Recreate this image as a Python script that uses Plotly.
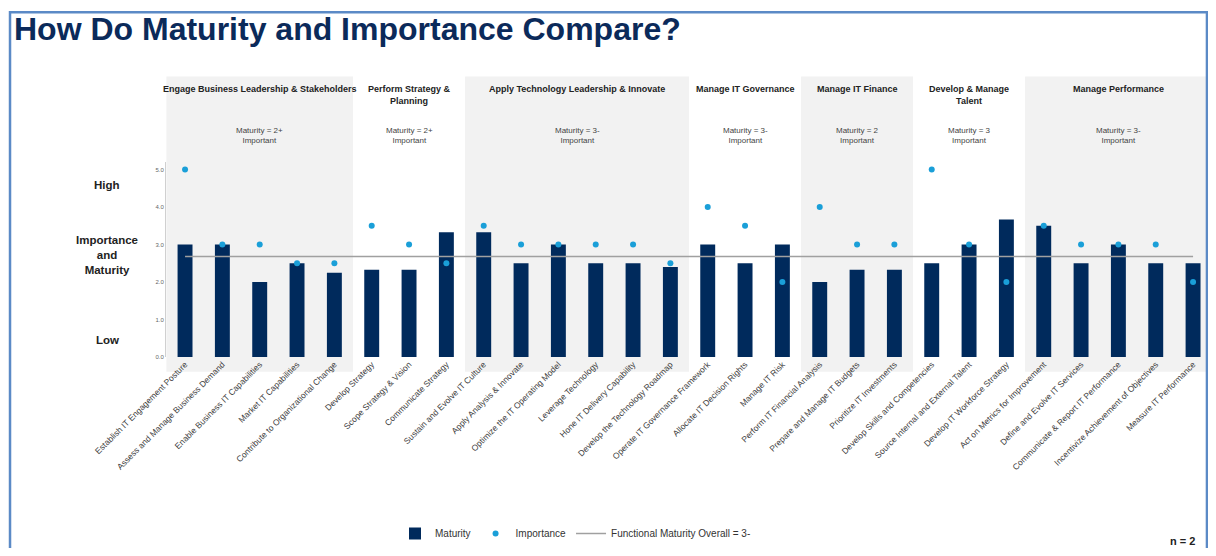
import plotly.graph_objects as go

# 데이터
categories = [
    "Establish IT Engagement Posture",
    "Assess and Manage Business Demand",
    "Enable Business IT Capabilities",
    "Market IT Capabilities",
    "Contribute to Organizational Change",
    "Develop Strategy",
    "Scope Strategy & Vision",
    "Communicate Strategy",
    "Sustain and Evolve IT Culture",
    "Apply Analysis & Innovate",
    "Optimize the IT Operating Model",
    "Leverage Technology",
    "Hone IT Delivery Capability",
    "Develop the Technology Roadmap",
    "Operate IT Governance Framework",
    "Allocate IT Decision Rights",
    "Manage IT Risk",
    "Perform IT Financial Analysis",
    "Prepare and Manage IT Budgets",
    "Prioritize IT Investments",
    "Develop Skills and Competencies",
    "Source Internal and External Talent",
    "Develop IT Workforce Strategy",
    "Act on Metrics for Improvement",
    "Define and Evolve IT Services",
    "Communicate & Report IT Performance",
    "Incentivize Achievement of Objectives",
    "Measure IT Performance",
]
maturity = [3.0, 3.0, 2.0, 2.5, 2.25, 2.33, 2.33, 3.33, 3.33, 2.5, 3.0, 2.5, 2.5, 2.4,
            3.0, 2.5, 3.0, 2.0, 2.33, 2.33, 2.5, 3.0, 3.67, 3.5, 2.5, 3.0, 2.5, 2.5]
importance = [5.0, 3.0, 3.0, 2.5, 2.5, 3.5, 3.0, 2.5, 3.5, 3.0, 3.0, 3.0, 3.0, 2.5,
              4.0, 3.5, 2.0, 4.0, 3.0, 3.0, 5.0, 3.0, 2.0, 3.5, 3.0, 3.0, 3.0, 2.0]
functional_overall = 2.68

group_names = [
    "Engage Business Leadership & Stakeholders",
    "Perform Strategy &<br>Planning",
    "Apply Technology Leadership & Innovate",
    "Manage IT Governance",
    "Manage IT Finance",
    "Develop & Manage<br>Talent",
    "Manage Performance",
]
group_sizes = [5, 3, 6, 3, 3, 3, 5]
group_notes = ["Maturity = 2+", "Maturity = 2+", "Maturity = 3-", "Maturity = 3-",
               "Maturity = 2", "Maturity = 3", "Maturity = 3-"]
group_shaded = [True, False, True, False, True, False, True]

NAVY = "#002a5c"
LIGHT_BLUE = "#1a9fd8"
FONT = "Liberation Sans, Arial, sans-serif"

fig = go.Figure()

# 성숙도 막대
fig.add_trace(
    go.Bar(
        x=categories,
        y=maturity,
        name="Maturity",
        marker={"color": NAVY, "line": {"width": 0}},
        width=0.4,
    )
)

# 중요도 점
fig.add_trace(
    go.Scatter(
        x=categories,
        y=importance,
        mode="markers",
        name="Importance",
        marker={"color": LIGHT_BLUE, "size": 6},
        cliponaxis=False,
    )
)

# 전체 기준선
fig.add_trace(
    go.Scatter(
        x=categories,
        y=[functional_overall] * len(categories),
        mode="lines",
        name="Functional Maturity Overall = 3-",
        line={"color": "#a0a0a0", "width": 1.5},
    )
)

# 그룹 배경 및 헤더
start = 0
for name, size, note, shaded in zip(group_names, group_sizes, group_notes, group_shaded):
    end = start + size - 1
    if shaded:
        fig.add_shape(
            type="rect", xref="x", yref="paper",
            x0=start - 0.5, x1=end + 0.5, y0=-0.076, y1=1.439,
            fillcolor="#f2f2f2", line={"width": 0}, layer="below",
        )
    center = (start + end) / 2
    fig.add_annotation(
        x=center, y=1.412, xref="x", yref="paper", yanchor="top",
        text=f"<b>{name}</b>", showarrow=False,
        font={"size": 9, "color": "#222222", "family": FONT},
    )
    fig.add_annotation(
        x=center, y=1.134, xref="x", yref="paper", yanchor="middle",
        text=f"{note}<br>Important", showarrow=False,
        font={"size": 8, "color": "#444444", "family": FONT},
    )
    start = end + 1

# y축 설명
for text, ypos in [("High", 0.884), ("Importance<br>and<br>Maturity", 0.525), ("Low", 0.086)]:
    fig.add_annotation(
        x=-0.0566, y=ypos, xref="paper", yref="paper", xanchor="center", yanchor="middle",
        text=f"<b>{text}</b>", showarrow=False,
        font={"size": 11.5, "color": "#222222", "family": FONT},
    )

fig.add_annotation(x=0.989, y=-0.944, xref="paper", yref="paper", xanchor="right",
                   yanchor="middle", text="<b>n = 2</b>", showarrow=False,
                   font={"size": 11, "color": "#222222", "family": FONT})

# 외곽 테두리
fig.add_shape(type="rect", xref="paper", yref="paper",
              x0=-0.1497, x1=0.999, y0=-1.2, y1=1.768,
              line={"color": "#5b8ac6", "width": 2.5}, fillcolor="rgba(0,0,0,0)")

fig.update_layout(
    width=1200,
    height=540,
    margin={"l": 158, "r": 0, "t": 154, "b": 188},
    paper_bgcolor="white",
    plot_bgcolor="rgba(0,0,0,0)",
    font={"family": FONT, "color": "#333333"},
    title={
        "text": "<b>How Do Maturity and Importance Compare?</b>",
        "x": 0.005, "xanchor": "left", "y": 0.962, "yanchor": "middle",
        "font": {"size": 32, "color": "#0b2a5a", "family": FONT},
    },
    showlegend=True,
    legend={
        "orientation": "h", "x": 0.393, "xanchor": "center", "y": -0.909, "yanchor": "middle",
        "font": {"size": 10, "color": "#333333"}, "itemwidth": 30,
    },
)

fig.update_xaxes(
    type="category",
    range=[-0.51, 27.4],
    tickangle=-45,
    tickfont={"size": 8.5, "color": "#404040"},
    showgrid=False,
    showline=False,
    ticks="",
)
fig.update_yaxes(
    range=[0, 5.2],
    tickvals=[0, 1, 2, 3, 4, 5],
    tickformat=".1f",
    tickfont={"size": 6, "color": "#666666"},
    showgrid=False,
    zeroline=False,
    showline=True,
    linecolor="#d0d0d0",
    linewidth=1,
    ticks="",
)

fig.write_html("out.html")
